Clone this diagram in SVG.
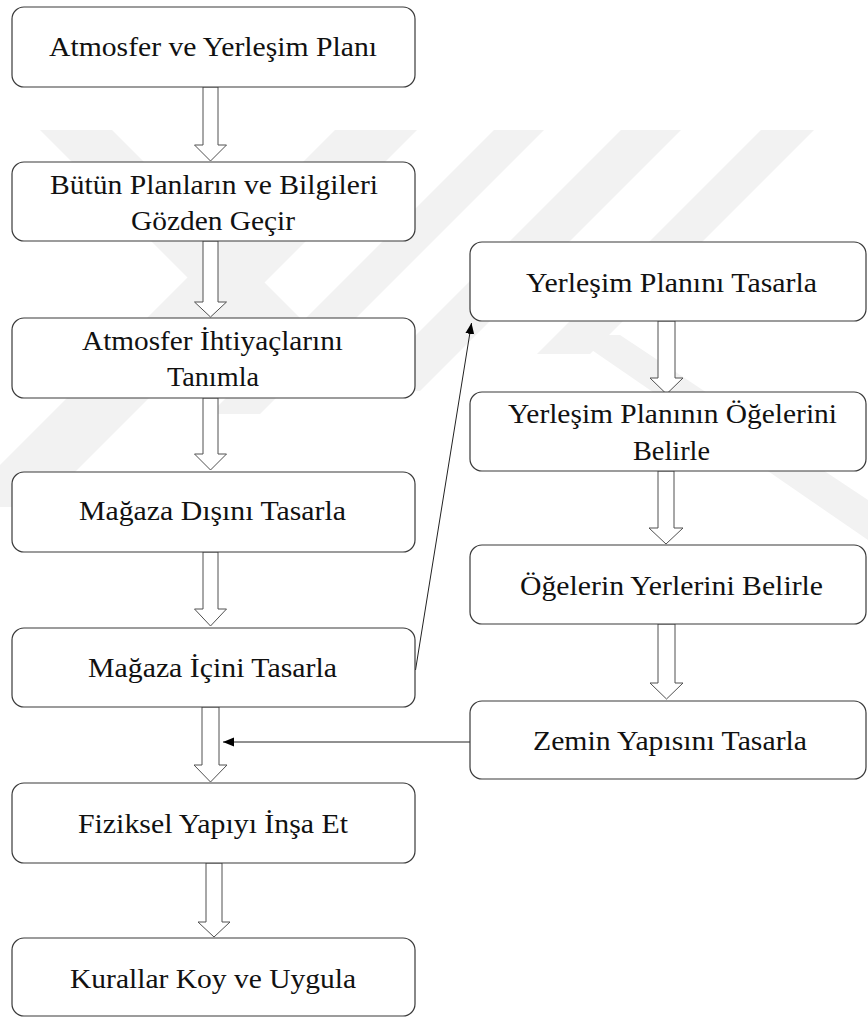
<svg xmlns="http://www.w3.org/2000/svg" width="868" height="1017" viewBox="0 0 868 1017" font-family="Liberation Serif, serif">
<style>
.box{fill:#fff;stroke:#3a3a3a;stroke-width:1.2}
.blk{fill:#fff;stroke:#505050;stroke-width:1}
.wm{fill:#f2f2f2}
.con{stroke:#222;stroke-width:1;fill:none}
</style>
<defs>
<marker id="ah" markerWidth="12" markerHeight="10" refX="11" refY="4.5" orient="auto" markerUnits="userSpaceOnUse">
<path d="M0,0 L11,4.5 L0,9 Z" fill="#000"/>
</marker>
</defs>
<rect width="868" height="1017" fill="#fff"/>
<g id="watermark">
<polygon class="wm" points="40,130 112,130 372,390 300,390"/>
<polygon class="wm" points="335,130 417,130 40,507 -42,507"/>
<polygon class="wm" points="494,130 544,130 260,414 210,414"/>
<polygon class="wm" points="621,130 681,130 420,391 360,391"/>
<polygon class="wm" points="761,130 814,130 590,354 537,354"/>
<polygon class="wm" points="570,335 620,335 868,500 868,540"/>
</g>
<g id="connectors">
<path class="blk" d="M203,87 H218 V145 H226.5 L210.5,161 L194.5,145 H203 Z"/>
<path class="blk" d="M203,241 H218 V302 H226.5 L210.5,317 L194.5,302 H203 Z"/>
<path class="blk" d="M203,398 H218 V454 H226.5 L210.5,470 L194.5,454 H203 Z"/>
<path class="blk" d="M203,552 H218 V609 H226.5 L210.5,626 L194.5,609 H203 Z"/>
<path class="blk" d="M202,707 H219 V765 H227 L210.5,782 L194,765 H202 Z"/>
<path class="blk" d="M206,863 H222 V922 H230 L214,937 L198,922 H206 Z"/>
<path class="blk" d="M658,321 H675 V378 H683 L666.5,394 L650,378 H658 Z"/>
<path class="blk" d="M658,471 H674 V528 H683 L666,544 L649,528 H658 Z"/>
<path class="blk" d="M658,624 H675 V683 H683 L666.5,699 L650,683 H658 Z"/>
<line class="con" x1="415.5" y1="670" x2="471.5" y2="323" marker-end="url(#ah)"/>
<line class="con" x1="470" y1="742" x2="223" y2="742" marker-end="url(#ah)"/>
</g>
<g id="n1"><rect class="box" x="12" y="7" width="403" height="80" rx="12"/>
<text style="font-family:'Liberation Serif',serif;font-size:28px" fill="#111" text-anchor="middle" x="213" y="56" textLength="328" lengthAdjust="spacingAndGlyphs">Atmosfer  ve Yerleşim  Planı</text></g>
<g id="n2"><rect class="box" x="12" y="162" width="403" height="79" rx="12"/>
<text style="font-family:'Liberation Serif',serif;font-size:28px" fill="#111" text-anchor="middle" x="214" y="194" textLength="328" lengthAdjust="spacingAndGlyphs">Bütün Planların ve Bilgileri</text>
<text style="font-family:'Liberation Serif',serif;font-size:28px" fill="#111" text-anchor="middle" x="213" y="230" textLength="164" lengthAdjust="spacingAndGlyphs">Gözden  Geçir</text></g>
<g id="n3"><rect class="box" x="12" y="318" width="403" height="80" rx="12"/>
<text style="font-family:'Liberation Serif',serif;font-size:28px" fill="#111" text-anchor="middle" x="212.5" y="350" textLength="261" lengthAdjust="spacingAndGlyphs">Atmosfer  İhtiyaçlarını</text>
<text style="font-family:'Liberation Serif',serif;font-size:28px" fill="#111" text-anchor="middle" x="213" y="386" textLength="92" lengthAdjust="spacingAndGlyphs">Tanımla</text></g>
<g id="n4"><rect class="box" x="12" y="472" width="403" height="80" rx="12"/>
<text style="font-family:'Liberation Serif',serif;font-size:28px" fill="#111" text-anchor="middle" x="212.5" y="520" textLength="267" lengthAdjust="spacingAndGlyphs">Mağaza Dışını Tasarla</text></g>
<g id="n5"><rect class="box" x="12" y="628" width="403" height="79" rx="12"/>
<text style="font-family:'Liberation Serif',serif;font-size:28px" fill="#111" text-anchor="middle" x="212.5" y="677" textLength="249" lengthAdjust="spacingAndGlyphs">Mağaza İçini Tasarla</text></g>
<g id="n6"><rect class="box" x="12" y="783" width="403" height="80" rx="12"/>
<text style="font-family:'Liberation Serif',serif;font-size:28px" fill="#111" text-anchor="middle" x="213" y="833" textLength="270" lengthAdjust="spacingAndGlyphs">Fiziksel Yapıyı İnşa Et</text></g>
<g id="n7"><rect class="box" x="12" y="938" width="403" height="78" rx="12"/>
<text style="font-family:'Liberation Serif',serif;font-size:28px" fill="#111" text-anchor="middle" x="213" y="988" textLength="286" lengthAdjust="spacingAndGlyphs">Kurallar Koy ve Uygula</text></g>
<g id="r1"><rect class="box" x="470" y="242" width="396" height="79" rx="12"/>
<text style="font-family:'Liberation Serif',serif;font-size:28px" fill="#111" text-anchor="middle" x="671.5" y="292" textLength="291" lengthAdjust="spacingAndGlyphs">Yerleşim  Planını Tasarla</text></g>
<g id="r2"><rect class="box" x="470" y="392" width="396" height="79" rx="12"/>
<text style="font-family:'Liberation Serif',serif;font-size:28px" fill="#111" text-anchor="middle" x="672.5" y="423" textLength="329" lengthAdjust="spacingAndGlyphs">Yerleşim  Planının Öğelerini</text>
<text style="font-family:'Liberation Serif',serif;font-size:28px" fill="#111" text-anchor="middle" x="671.5" y="460" textLength="77" lengthAdjust="spacingAndGlyphs">Belirle</text></g>
<g id="r3"><rect class="box" x="470" y="545" width="396" height="79" rx="12"/>
<text style="font-family:'Liberation Serif',serif;font-size:28px" fill="#111" text-anchor="middle" x="671.5" y="595" textLength="303" lengthAdjust="spacingAndGlyphs">Öğelerin Yerlerini  Belirle</text></g>
<g id="r4"><rect class="box" x="470" y="701" width="396" height="78" rx="12"/>
<text style="font-family:'Liberation Serif',serif;font-size:28px" fill="#111" text-anchor="middle" x="670" y="750" textLength="274" lengthAdjust="spacingAndGlyphs">Zemin Yapısını Tasarla</text></g>
</svg>
